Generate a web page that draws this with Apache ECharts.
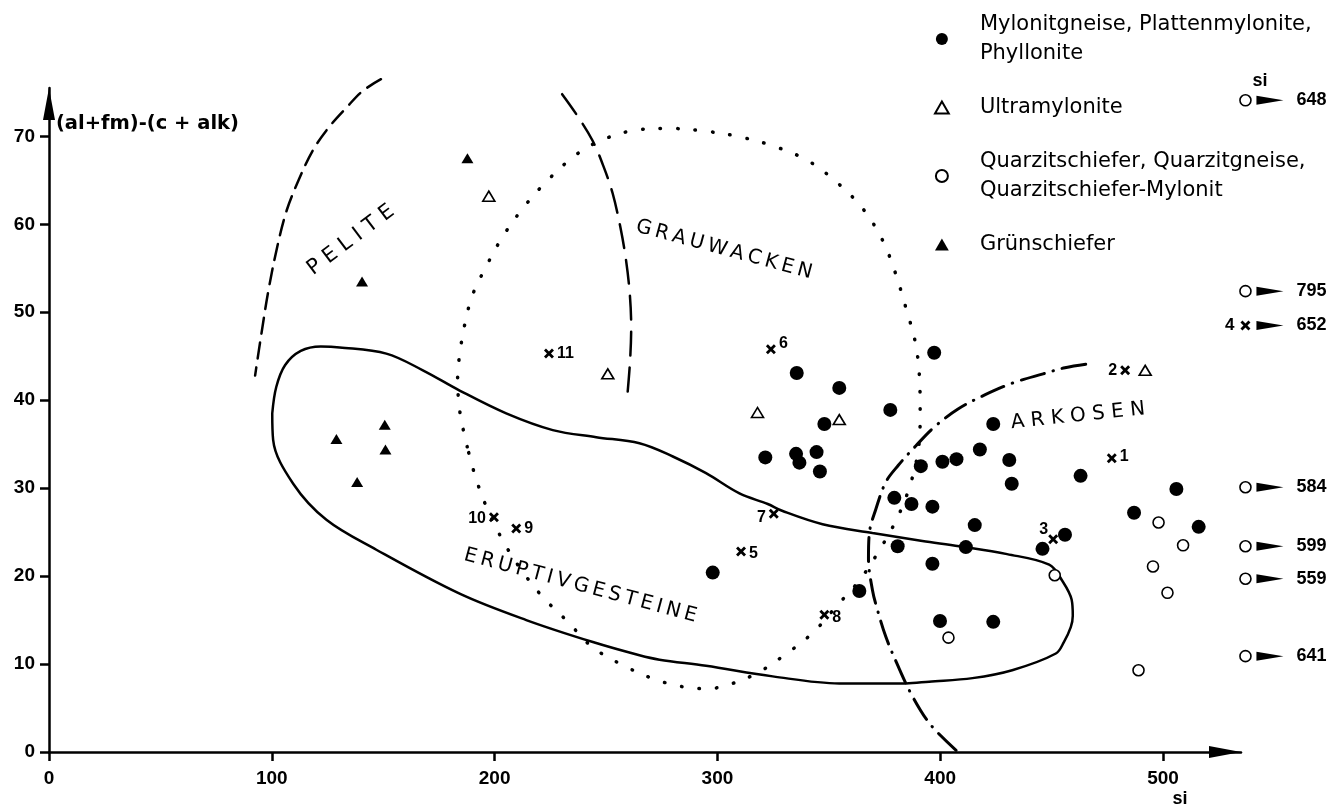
<!DOCTYPE html>
<html><head><meta charset="utf-8">
<script src="https://cdn.jsdelivr.net/npm/echarts@6.0.0/dist/echarts.min.js"></script>
<style>html,body{margin:0;padding:0;background:#fff}#c{width:1338px;height:809px}</style>
</head><body><div id="c"></div>
<script>
// ---------- data ----------
const xTicks = [0, 100, 200, 300, 400, 500];
const yTicks = [0, 10, 20, 30, 40, 50, 60, 70];

const mylonite = [[335.6,43.1],[354.7,41.4],[397.3,45.4],[377.6,38.9],[348,37.3],[321.5,33.5],[335.3,33.9],[336.8,32.9],[344.5,34.1],[346,31.9],[391.3,32.5],[401,33.0],[407.3,33.3],[417.8,34.4],[423.8,37.3],[431,33.2],[432.1,30.5],[463,31.4],[379.4,28.9],[387.1,28.2],[396.5,27.9],[415.5,25.8],[380.9,23.4],[411.5,23.3],[396.5,21.4],[297.9,20.4],[363.7,18.3],[399.9,14.9],[423.8,14.8],[445.9,23.1],[456,24.7],[487,27.2],[506,29.9],[516,25.6]];
const ultramylonite = [[197.4,63.2],[250.8,43.0],[318,38.6],[354.7,37.8],[492,43.4]];
const quarzit = [[403.7,13.0],[451.4,20.1],[498,26.1],[509,23.5],[495.5,21.1],[502,18.1],[489,9.3]];
const gruenschiefer = [[187.8,67.5],[140.5,53.5],[150.7,37.2],[129,35.6],[151,34.4],[138.3,30.7]];

const samplePts = [[477,33.4],[483,43.4],[450.7,24.2],[310.6,22.8],[324,45.8],[325.3,27.1],[348,15.6],[209.7,25.4],[199.7,26.7],[224.4,45.3]];
const sampleNo = ['1','2','3','5','6','7','8','9','10','11'];

// points beyond the si range (shown at the right edge with their si value)
const overflowY = [74.1, 52.4, 48.5, 30.1, 23.4, 19.7, 10.9];
const overflowSi = ['648','795','652','584','599','559','641'];
const overflowMark = ['o','o','x','o','o','o','o'];
const overflowNo = ['','','4','','','',''];

// field boundaries
const peliteLine = [[149,76.5],[141,75.2],[133.6,73.3],[125.5,71],[118.4,68.4],[112,65],[106.7,61.6],[102.5,57.5],[98.5,52.5],[95.3,47.5],[92.5,42.8]];
const grauwackeLine = [[230.3,74.8],[237,72.4],[244,69.5],[249,66.5],[253,63.5],[256.5,59.6],[259,55.9],[260.7,52],[261.3,48.3],[260.8,44.5],[259.6,40.6]];
const grauwackeField = [[187.7,34.7],[184.4,38.7],[183.4,42.6],[184.5,45.5],[186.5,48.5],[190,51.9],[196,55.1],[203.4,58.5],[212.6,61.8],[223,64.8],[236,67.8],[247.4,69.5],[263,70.7],[278.8,70.9],[294.2,70.6],[309.1,70.0],[325.1,68.9],[340.2,67.3],[353.5,64.8],[365.5,61.7],[374.1,58.2],[379.7,54.6],[384.6,50.5],[388.8,46.6],[390.7,42.6],[391,38.6],[390.3,34.6],[386.8,30.6],[380.9,26.7],[372.6,22.9],[363.7,19.5],[353.5,16.6],[343,13.6],[331.1,11.2],[317.3,8.9],[303.1,7.5],[295.3,7.2],[287.4,7.3],[279.5,7.7],[271.4,8.3],[257.3,9.9],[243.5,12.0],[232.9,14.8],[221.7,17.6],[212,20.7],[204,23.9],[196.3,27.9],[191.5,31.2],[187.7,34.7]];
const eruptivField = [[100.2,38.5],[102,41.5],[106,44],[113,45.6],[122,46.1],[130.5,46.0],[151.4,45.3],[167.8,43.4],[184.3,41.1],[205.2,38.5],[226.1,36.6],[245.6,35.8],[265,35.1],[280,33.6],[294.9,31.7],[309.9,29.4],[322.6,28.2],[329.3,27.4],[347.2,25.9],[369.6,24.9],[392,24.0],[408.5,23.4],[430,22.5],[448.9,21.3],[454.7,19.5],[459,17.3],[459.5,15.5],[458.6,14.2],[455.5,12.5],[451.9,11.2],[432.3,9.3],[414.5,8.4],[395,8.0],[384.6,7.8],[354.7,7.8],[324.8,8.6],[294.9,9.8],[274,10.5],[265,11.0],[244.1,12.5],[214.2,15],[184.3,18],[146.9,23],[124.5,26.4],[109.6,30.5],[100.6,35.5],[100.2,38.5]];
const arkoseLine = [[465.3,44.1],[456,43.7],[446.2,43.0],[433,42.0],[420,40.6],[408,39],[397.6,37.0],[389,34.8],[381.2,32.6],[375.6,30.7],[371.1,27.6],[368.2,24.9],[367.8,22.0],[369.6,18.4],[371.9,16.1],[375.6,13.1],[380.5,10.1],[387.6,6.3],[396,3],[408,0]];

const regionNames = ['P E L I T E', 'G\u2009R\u2009A\u2009U\u2009W\u2009A\u2009C\u2009K\u2009E\u2009N', 'A R K O S E N', 'E\u2009R\u2009U\u2009P\u2009T\u2009I\u2009V\u2009G\u2009E\u2009S\u2009T\u2009E\u2009I\u2009N\u2009E'];
const regionAnchor = [[135.5,58.2],[303,57.1],[461.8,38.2],[238.5,18.9]];

const legendNames = ['Mylonitgneise, Plattenmylonite,\nPhyllonite', 'Ultramylonite', 'Quarzitschiefer, Quarzitgneise,\nQuarzitschiefer-Mylonit', 'Grünschiefer'];

// ---------- chart ----------
const NUMFONT = "'Liberation Sans', Arial, sans-serif";
const TXTFONT = "'DejaVu Sans', sans-serif";
const XMARK = 'path://M2,0 L5,3 L8,0 L10,2 L7,5 L10,8 L8,10 L5,7 L2,10 L0,8 L3,5 L0,2 Z';
const TRI = 'path://M5,0 L10,8.7 L0,8.7 Z';
const OVERFLOW_X = 537, ARROW_X = 548;

function boundary(data, type, width, smooth) {
  return { type: 'line', data, symbol: 'none', smooth: smooth, clip: false, silent: true, z: 2,
    lineStyle: { color: '#000', width: width, type: type, cap: 'round', opacity: 1 } };
}

const regionAngle = [37, -15, 6, -15];
const regionSize = [21, 20, 20, 20];

const sampleLabel = {
  '1': { position: 'right', offset: [0, -2] },
  '2': { position: 'left', offset: [0, 0] },
  '3': { position: 'left', offset: [3, -10] },
  '5': { position: 'right', offset: [0, 2] },
  '6': { position: 'right', offset: [0, -6] },
  '7': { position: 'left', offset: [0, 4] },
  '8': { position: 'right', offset: [0, 3] },
  '9': { position: 'right', offset: [0, 0] },
  '10': { position: 'left', offset: [0, 1] },
  '11': { position: 'right', offset: [0, 0] }
};

const BLACK_FILL = { color: '#000', opacity: 1 };
const WHITE_FILL = { color: '#fff', borderColor: '#000', borderWidth: 1.6, opacity: 1 };
const HIDDEN = { color: 'rgba(0,0,0,0)', opacity: 1 };

const option = {
  animation: false,
  backgroundColor: '#fff',
  grid: { left: 49, right: 97, top: 88, bottom: 57 },
  xAxis: {
    type: 'value', min: 0, max: 535,
    axisLine: { show: true, onZero: false, symbol: ['none', 'triangle'], symbolSize: [12, 32], symbolOffset: [0, -16],
      lineStyle: { color: '#000', width: 2.5 } },
    axisTick: { show: true, length: 9, customValues: xTicks, lineStyle: { color: '#000', width: 2.5 } },
    axisLabel: { customValues: xTicks, margin: 17, color: '#000', fontFamily: NUMFONT, fontWeight: 'bold', fontSize: 19 },
    splitLine: { show: false }
  },
  yAxis: {
    type: 'value', min: 0, max: 75.5,
    axisLine: { show: true, onZero: false, symbol: ['none', 'triangle'], symbolSize: [12, 32], symbolOffset: [0, -16],
      lineStyle: { color: '#000', width: 2.5 } },
    axisTick: { show: true, length: 9, customValues: yTicks, lineStyle: { color: '#000', width: 2.5 } },
    axisLabel: { customValues: yTicks, margin: 14, color: '#000', fontFamily: NUMFONT, fontWeight: 'bold', fontSize: 19 },
    splitLine: { show: false }
  },
  legend: {
    orient: 'vertical', left: 929, top: 5, itemGap: 25, itemWidth: 66, itemHeight: 12,
    selectedMode: false, symbolKeepAspect: true,
    textStyle: { fontFamily: TXTFONT, fontSize: 21, lineHeight: 29, color: '#000' },
    data: [
      { name: legendNames[0] },
      { name: legendNames[1], icon: TRI },
      { name: legendNames[2] },
      { name: legendNames[3], icon: TRI }
    ]
  },
  series: [
    boundary(peliteLine, [16, 9], 2.5, 0.35),
    boundary(grauwackeLine, [24, 12], 2.5, 0.35),
    boundary(grauwackeField, [0.5, 17], 3.5, 0.35),
    boundary(eruptivField, 'solid', 2.5, 0.35),
    boundary(arkoseLine, [24, 9, 0.5, 9], 3, 0.35),
    { name: legendNames[0], type: 'scatter', data: mylonite, symbol: 'circle', symbolSize: 14, z: 5,
      itemStyle: BLACK_FILL },
    { name: legendNames[1], type: 'scatter', data: ultramylonite, symbol: 'triangle', symbolSize: [12, 10], z: 5,
      itemStyle: WHITE_FILL },
    { name: legendNames[2], type: 'scatter', data: quarzit, symbol: 'circle', symbolSize: 11, z: 5,
      itemStyle: WHITE_FILL },
    { name: legendNames[3], type: 'scatter', data: gruenschiefer, symbol: 'triangle', symbolSize: [12, 10], z: 5,
      itemStyle: BLACK_FILL },
    { name: 'Proben', type: 'scatter', symbol: XMARK, symbolSize: 10, z: 6,
      itemStyle: BLACK_FILL,
      data: samplePts.map((p, i) => ({ value: p, label: Object.assign({ show: true, formatter: sampleNo[i], distance: 3 }, sampleLabel[sampleNo[i]]) })),
      label: { color: '#000', opacity: 1, fontFamily: NUMFONT, fontWeight: 'bold', fontSize: 16 } },
    { name: 'overflow', type: 'scatter', clip: false, z: 6,
      data: overflowY.map((y, i) => overflowMark[i] === 'x'
        ? { value: [OVERFLOW_X, y], symbol: XMARK, symbolSize: 10, itemStyle: BLACK_FILL,
            label: { show: true, position: 'left', distance: 6, formatter: overflowNo[i] } }
        : { value: [OVERFLOW_X, y], symbol: 'circle', symbolSize: 11, itemStyle: WHITE_FILL }),
      label: { color: '#000', opacity: 1, fontFamily: NUMFONT, fontWeight: 'bold', fontSize: 17 } },
    { name: 'overflowArrow', type: 'scatter', clip: false, z: 6, symbol: 'triangle', symbolRotate: -90, symbolSize: [9, 27],
      itemStyle: BLACK_FILL,
      data: overflowY.map(y => [ARROW_X, y]),
      label: { show: true, position: 'right', distance: 13, formatter: p => overflowSi[p.dataIndex],
        color: '#000', opacity: 1, fontFamily: NUMFONT, fontWeight: 'bold', fontSize: 18 } },
    { name: 'regions', type: 'scatter', clip: false, silent: true, z: 4, symbolSize: 1,
      itemStyle: HIDDEN,
      data: regionAnchor.map((p, i) => ({ value: p, label: { show: true, position: 'inside', formatter: regionNames[i], rotate: regionAngle[i], fontSize: regionSize[i] } })),
      label: { color: '#000', opacity: 1, fontFamily: TXTFONT, fontSize: 20 } },
    { name: 'axisTitles', type: 'scatter', clip: false, silent: true, z: 4, symbolSize: 1,
      itemStyle: HIDDEN,
      data: [
        { value: [2, 71.4], label: { show: true, position: 'right', distance: 2, formatter: '(al+fm)-(c + alk)', fontFamily: TXTFONT, fontSize: 19.5 } },
        { value: [507.6, -5.4], label: { show: true, position: 'inside', formatter: 'si', fontSize: 18 } },
        { value: [OVERFLOW_X + 6.5, 76.3], label: { show: true, position: 'inside', formatter: 'si', fontSize: 18 } }
      ],
      label: { color: '#000', opacity: 1, fontFamily: NUMFONT, fontWeight: 'bold' } }
  ]
};

const chart = echarts.init(document.getElementById('c'), null, { renderer: 'canvas' });
chart.setOption(option);
</script>
</body></html>
